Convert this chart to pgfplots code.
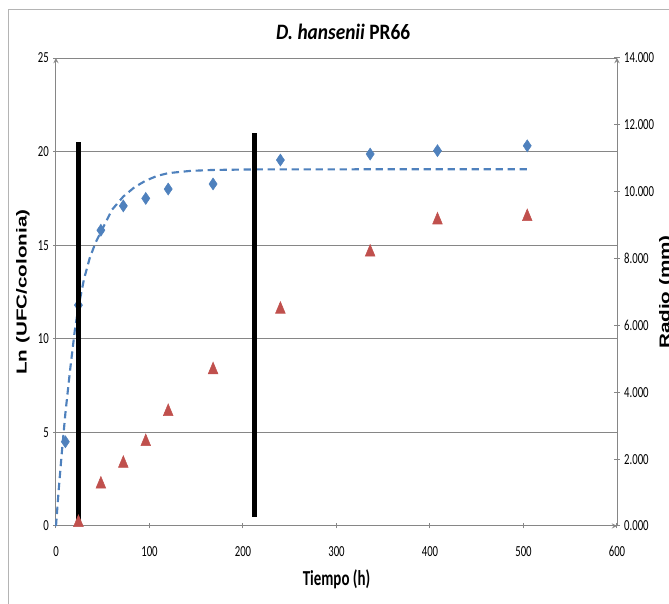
\documentclass[border=0pt]{standalone}
\usepackage{fontspec}
\setmainfont{Carlito}
\newfontfamily\arialfont{Liberation Sans}
\usepackage{graphicx}
\usepackage{pgfplots}
\pgfplotsset{compat=1.18}

\definecolor{dblue}{HTML}{4F81BD}
\definecolor{dred}{HTML}{C0504D}
\definecolor{axgray}{HTML}{868686}
\definecolor{framegray}{HTML}{B4B4B4}

% chart was squeezed sideways: text is narrow
\newcommand{\sq}[1]{\scalebox{0.7}[1]{#1}}
\newcommand{\tickfont}{\fontsize{11.5}{13}\selectfont}

\pgfplotsset{
  common/.style={
    scale only axis, width=420.75pt, height=351pt,
    at={(0,0)}, anchor=south west,
    xmin=0, xmax=600,
    axis line style={-, axgray, line width=0.75pt},
    tick style={axgray, line width=0.75pt},
    major tick length=3.75pt,
    tick align=outside,
    /pgf/number format/assume math mode=true,
    ticklabel style={font=\tickfont, text=black},
    clip=false,
  }
}

\begin{document}
\begin{tikzpicture}
\begin{axis}[
  common,
  ymin=0, ymax=25,
  axis x line=bottom, axis y line=left,
  xtick={0,100,...,600}, ytick={0,5,...,25},
  xticklabel={\sq{\pgfmathprintnumber{\tick}}},
  yticklabel={\sq{\pgfmathprintnumber{\tick}}},
  xticklabel style={anchor=base, yshift=-21pt},
  ymajorgrids, grid style={axgray, line width=0.75pt},
  title={\fontsize{16.5}{20}\selectfont\bfseries\scalebox{0.88}[1]{\textit{D. hansenii} PR66}},
  title style={at={(axis description cs:0.512,1)}, anchor=base, yshift=7.5pt},
  xlabel={\fontsize{16}{19}\selectfont\bfseries\sq{Tiempo (h)}},
  xlabel style={at={(axis description cs:0.5,0)}, anchor=base, yshift=-45pt},
  ylabel={\arialfont\fontsize{15.5}{18}\selectfont\bfseries\scalebox{1}[0.7]{Ln (UFC/colonia)}},
  ylabel style={at={(axis description cs:-0.0588,0.5)}, anchor=center},
]
% ajuste (linea discontinua)
\addplot[dblue, line width=1.6pt, dash pattern=on 5.5pt off 3.5pt] coordinates {
  (0,0) (3,2) (6,3.8) (10,6) (15,8.3) (20,10.4) (24,11.7) (30,13.2) (36,14.3)
  (42,15.1) (48,15.7) (60,16.9) (72,17.6) (84,18.1) (96,18.45) (108,18.7)
  (120,18.85) (144,18.97) (168,19.02) (216,19.05) (504,19.06)
};
% Ln UFC/colonia
\addplot[only marks, mark=diamond*, mark size=4.5pt, mark options={xscale=0.9},
  color=dblue] coordinates {
  (10,4.5) (24,11.8) (48,15.8) (72,17.1) (96,17.5) (120,18.0) (168,18.27)
  (240,19.55) (336,19.87) (408,20.05) (504,20.31)
};
\end{axis}

\begin{axis}[
  common,
  ymin=0, ymax=14,
  axis x line=none, axis y line=right,
  ytick={0,2,...,14},
  yticklabel={\sq{\pgfmathprintnumber[fixed, fixed zerofill, precision=3]{\tick}}},
  ylabel={\arialfont\fontsize{15.5}{18}\selectfont\bfseries\scalebox{1}[0.7]{Radio (mm)}},
  ylabel style={at={(axis description cs:1.0873,0.5)}, anchor=center},
]
% radio de colonia
\addplot[only marks, mark=triangle*, mark size=5.8pt, mark options={xscale=0.72},
  color=dred] coordinates {
  (24,0.1) (48,1.25) (72,1.87) (96,2.52) (120,3.42) (168,4.67) (240,6.48)
  (336,8.19) (408,9.15) (504,9.25)
};
% barras verticales negras
\addplot[black, line width=4pt] coordinates {(24,0) (24,11.5)};
\addplot[black, line width=4pt] coordinates {(212,0.28) (212,11.75)};
\end{axis}

\draw[framegray, line width=0.75pt] (-35.55pt,-80pt) -- (-35.55pt,387.45pt) -- (480pt,387.45pt);
\pgfresetboundingbox
\path[use as bounding box] (-42pt,-58.5pt) rectangle (459.75pt,394.5pt);
\end{tikzpicture}
\end{document}
